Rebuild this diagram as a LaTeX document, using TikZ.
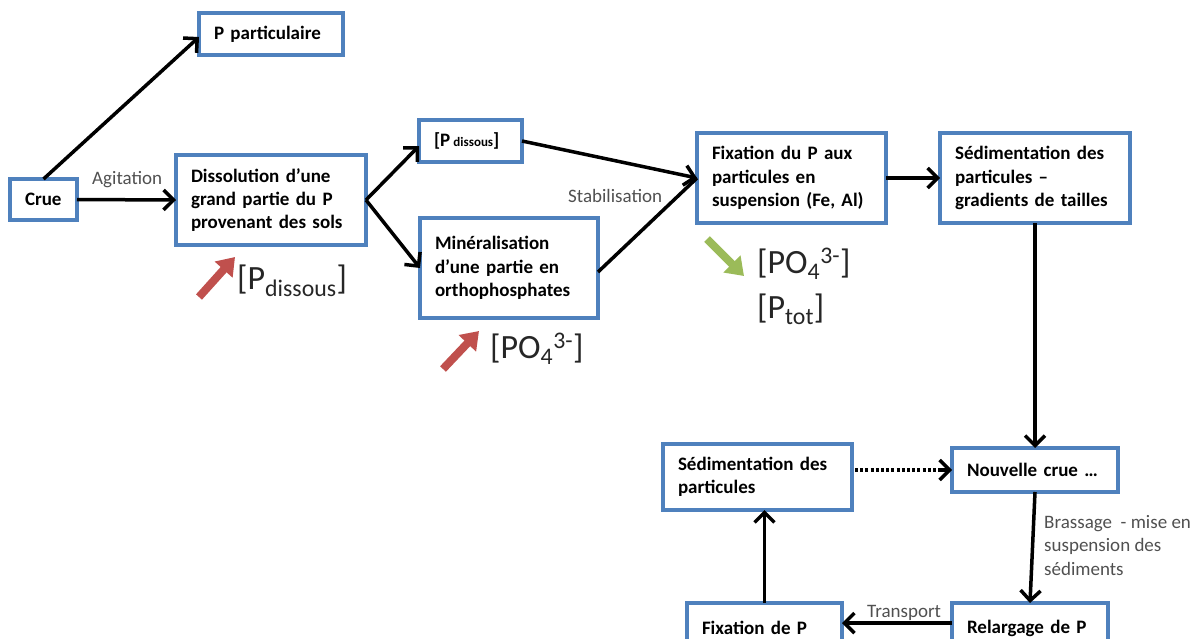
\documentclass[tikz,border=0pt]{standalone}
\usepackage{fontspec}
\setmainfont{Carlito}
\usetikzlibrary{arrows.meta}
\definecolor{boxblue}{RGB}{79,129,189}
\definecolor{upred}{RGB}{192,80,77}
\definecolor{downgreen}{RGB}{155,187,89}
\definecolor{labelgray}{RGB}{80,80,80}
\definecolor{conctext}{RGB}{38,38,38}
\begin{document}
\begin{tikzpicture}[x=1pt,y=-1pt,
  box/.style={draw=boxblue, line width=3.2pt, fill=white, anchor=north west,
    align=left, inner xsep=15pt, inner ysep=0pt, outer sep=0pt,
    font=\fontsize{19}{23.2}\selectfont\bfseries},
  flow/.style={line width=3.5pt, -{Straight Barb[length=10pt,width=20pt,line width=3.5pt]}},
  edgelabel/.style={text=labelgray, inner sep=0pt, font=\fontsize{19}{23.5}\selectfont},
  conc/.style={text=conctext, inner sep=0pt, anchor=base west, font=\fontsize{34}{40}\selectfont},
  trend/.style={line width=8pt, -{Triangle[length=17pt,width=23pt]}}
]
\useasboundingbox (0,0) rectangle (1201,638);
\clip (0,0) rectangle (1201,638);

% process boxes
\node[box, minimum width=67pt, text width=37pt, minimum height=41pt] (crue) at (10,179) {Crue};
\node[box, minimum width=144pt, text width=114pt, minimum height=42pt] (ppart) at (199,13) {P particulaire};
\node[box, minimum width=190pt, text width=160pt, minimum height=90pt] (diss) at (176,155)
  {Dissolution d’une\\grand partie du P\\provenant des sols};
\node[box, minimum width=103pt, text width=73pt, minimum height=42pt] (pdis) at (419,120)
  {[P\,{\fontsize{13}{15}\selectfont dissous}]};
\node[box, minimum width=178pt, text width=148pt, minimum height=100pt] (mine) at (420,218)
  {Minéralisation\\d’une partie en\\orthophosphates};
\node[box, minimum width=189pt, text width=159pt, minimum height=90pt] (fix) at (697,133)
  {Fixation du P aux\\particules en\\suspension (Fe, Al)};
\node[box, minimum width=190pt, text width=160pt, minimum height=90pt] (sed) at (940,133)
  {Sédimentation des\\particules --\\gradients de tailles};
\node[box, minimum width=166pt, text width=136pt, minimum height=44pt] (nc) at (952,448)
  {Nouvelle crue …};
\node[box, minimum width=189pt, text width=159pt, minimum height=66pt] (sedb) at (663,444)
  {Sédimentation des\\particules};
\node[box, minimum width=155pt, text width=125pt, minimum height=50pt] (fixp) at (687,603) {Fixation de P};
\node[box, minimum width=156pt, text width=126pt, minimum height=50pt] (rel) at (952,603) {Relargage de P};

% connectors
\draw[flow] (crue.north) -- ([yshift=-3pt]ppart.west);
\draw[flow] (crue.east) -- (diss.west);
\draw[flow] (diss.east) -- ([yshift=-5pt]pdis.west);
\draw[flow] (diss.east) -- (mine.west);
\draw[flow] (pdis.east) -- (fix.west);
\draw[line width=3.5pt] ([yshift=-4pt]mine.east) -- (fix.west);
\draw[flow] (fix.east) -- (sed.west);
\draw[flow] (sed.south) -- (sed.south |- nc.north);
\coordinate (dotend) at ([xshift=-14pt]nc.west);
\draw[line width=3.5pt, dash pattern=on 3pt off 2.2pt] ([xshift=3pt]sedb.east |- dotend) -- (dotend);
\draw[flow] (dotend) -- (nc.west);
\draw[flow] (nc.south) -- (rel.north);
\draw[flow] ([yshift=-20pt]rel.north west) -- ([yshift=-20pt]fixp.north east);
\draw[flow] (fixp.north) -- (fixp.north |- sedb.south);

% connector labels
\node[edgelabel, anchor=base west] (lagit) at (92,184) {Agitation};
\node[edgelabel, anchor=base west] (lstab) at (568,202) {Stabilisation};
\node[edgelabel, anchor=base west] (ltrans) at (867,617) {Transport};
\node[edgelabel, anchor=north west, align=left] (lbrass) at (1044,515)
  {Brassage~ - mise en\\suspension des\\sédiments};

% concentration trends
\coordinate (r1a) at (199,297); \coordinate (r1b) at (235,257);
\coordinate (r2a) at (443,369); \coordinate (r2b) at (479,331);
\coordinate (g1a) at (707,239); \coordinate (g1b) at (744,276);
\draw[trend, upred] (r1a) -- (r1b);
\draw[trend, upred] (r2a) -- (r2b);
\draw[trend, downgreen] (g1a) -- (g1b);

\node[conc] (cdis) at (237,289) {[P\textsubscript{dissous}]};
\node[conc] (cpo1) at (490,358) {[PO\textsubscript{4}\textsuperscript{3-}]};
\node[conc] (cpo2) at (757,273) {[PO\textsubscript{4}\textsuperscript{3-}]};
\node[conc] (ctot) at (757,318) {[P\textsubscript{tot}]};
\end{tikzpicture}
\end{document}
